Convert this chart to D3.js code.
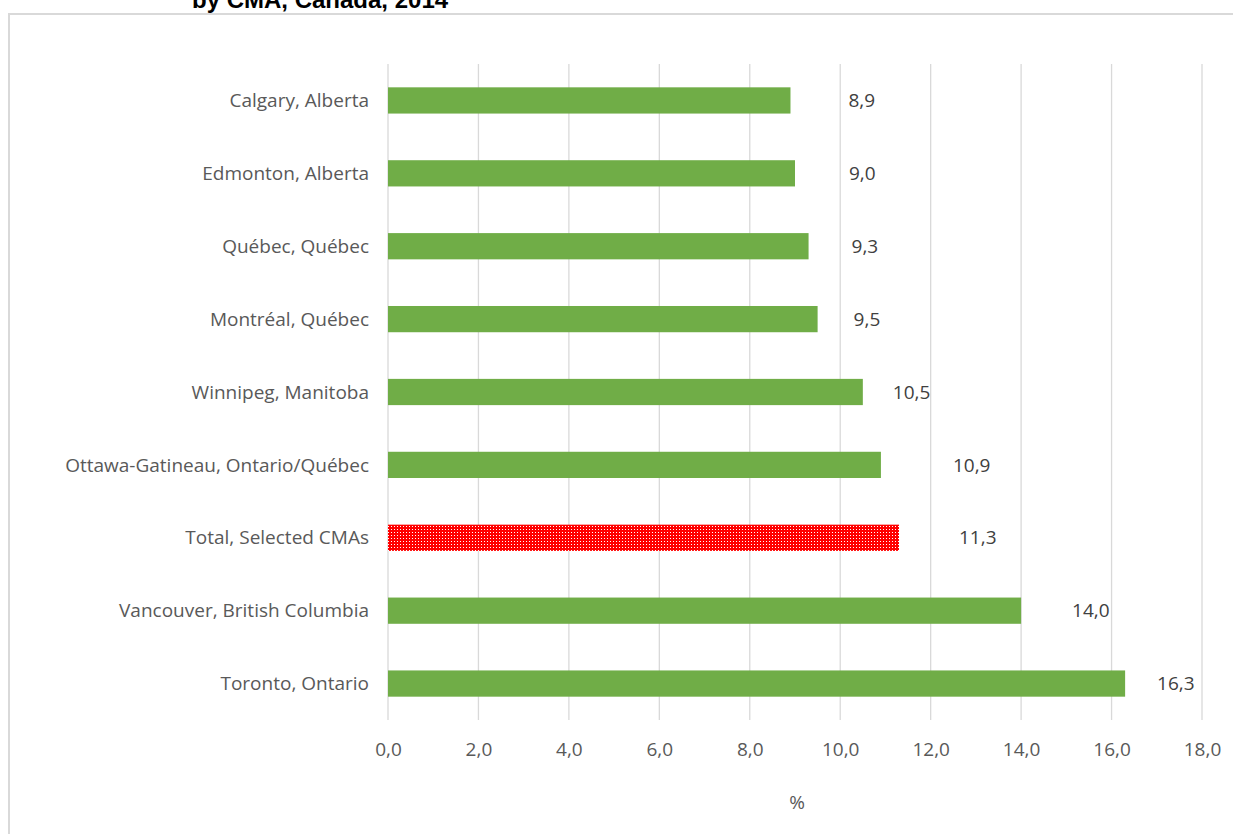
<!DOCTYPE html>
<html>
<head>
<meta charset="utf-8">
<script src="https://cdn.jsdelivr.net/npm/d3@7"></script>
<style>
  html, body { margin: 0; padding: 0; background: #fff; }
  svg { display: block; }
</style>
</head>
<body>
<svg id="chart" width="1233" height="834"></svg>
<script>
// Share of population, selected census metropolitan areas, 2014 (%)
const cities = [
  "Calgary, Alberta",
  "Edmonton, Alberta",
  "Québec, Québec",
  "Montréal, Québec",
  "Winnipeg, Manitoba",
  "Ottawa-Gatineau, Ontario/Québec",
  "Total, Selected CMAs",
  "Vancouver, British Columbia",
  "Toronto, Ontario"
];
const values = [8.9, 9.0, 9.3, 9.5, 10.5, 10.9, 11.3, 14.0, 16.3];
const tickValues = [0, 2, 4, 6, 8, 10, 12, 14, 16, 18];
const totalLabel = "Total, Selected CMAs";

// hand-placed data-label nudges (px past the bar end)
const labelNudge = [58, 54, 43, 36, 30, 72, 60, 51, 32];

const svg = d3.select("#chart");
const fmt = v => d3.format(".1f")(v).replace(".", ",");

// title (upper lines fall outside the frame)
svg.append("text")
  .attr("x", 192).attr("y", 8)
  .attr("font-family", "Liberation Sans, Arial, sans-serif")
  .attr("font-weight", "bold")
  .attr("font-size", 24)
  .attr("fill", "#000")
  .text("by CMA, Canada, 2014");

// chart frame
svg.append("path")
  .attr("d", "M9,836 L9,14 L1240,14")
  .attr("fill", "none")
  .attr("stroke", "#d9d9d9")
  .attr("stroke-width", 2);

// dotted fill for the total bar
const defs = svg.append("defs");
const pat = defs.append("pattern")
  .attr("id", "dots")
  .attr("patternUnits", "userSpaceOnUse")
  .attr("width", 3).attr("height", 3);
pat.append("rect").attr("width", 3).attr("height", 3).attr("fill", "#ff0000");
pat.append("rect").attr("x", 1).attr("y", 1).attr("width", 1).attr("height", 1).attr("fill", "#ffffff");

const x = d3.scaleLinear().domain([0, 18]).range([388, 1202]);
const y = d3.scaleBand().domain(cities).range([64, 720]).paddingInner(0.64).paddingOuter(0.32);

const font = "'Open Sans', sans-serif";
const fs = 19;

// vertical gridlines
svg.append("g")
  .selectAll("line")
  .data(tickValues)
  .join("line")
  .attr("x1", d => x(d)).attr("x2", d => x(d))
  .attr("y1", 64).attr("y2", 720)
  .attr("stroke", "#d9d9d9")
  .attr("stroke-width", 1.3);

// x axis tick labels
const xAxis = d3.axisBottom(x).tickValues(tickValues).tickFormat(fmt).tickSize(0).tickPadding(0);
const gx = svg.append("g").attr("transform", "translate(0,756)").call(xAxis);
gx.select(".domain").remove();
gx.selectAll("text")
  .attr("font-family", font).attr("font-size", fs).attr("fill", "#595959")
  .attr("dy", 0);

// y axis category labels
const yAxis = d3.axisLeft(y).tickSize(0).tickPadding(0);
const gy = svg.append("g").attr("transform", "translate(369,0)").call(yAxis);
gy.select(".domain").remove();
gy.selectAll("text")
  .attr("font-family", font).attr("font-size", fs).attr("fill", "#595959")
  .attr("dy", "0.35em");

// bars
svg.append("g")
  .selectAll("rect")
  .data(cities)
  .join("rect")
  .attr("x", x(0))
  .attr("y", d => y(d))
  .attr("width", (d, i) => x(values[i]) - x(0))
  .attr("height", y.bandwidth())
  .attr("fill", d => d === totalLabel ? "url(#dots)" : "#70ad47");

// data labels
svg.append("g")
  .selectAll("text")
  .data(cities)
  .join("text")
  .attr("x", (d, i) => x(values[i]) + labelNudge[i])
  .attr("y", d => y(d) + y.bandwidth() / 2)
  .attr("dy", "0.35em")
  .attr("font-family", font).attr("font-size", fs).attr("fill", "#404040")
  .text((d, i) => fmt(values[i]));

// axis title
svg.append("text")
  .attr("x", 797).attr("y", 809)
  .attr("text-anchor", "middle")
  .attr("font-family", font).attr("font-size", fs).attr("fill", "#595959")
  .text("%");
</script>
</body>
</html>
